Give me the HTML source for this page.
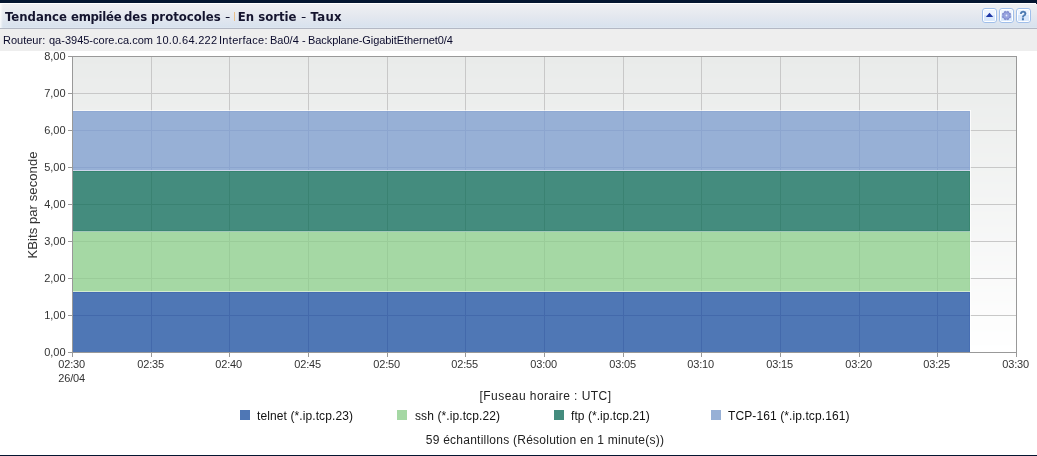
<!DOCTYPE html>
<html lang="fr"><head><meta charset="utf-8"><title>Tendance empilée des protocoles - En sortie - Taux</title>
<style>
html,body{margin:0;padding:0;background:#fff;overflow:hidden;}
body{width:1037px;height:456px;position:relative;overflow:hidden;font-family:"Liberation Sans",sans-serif;color:#222;}
.abs{position:absolute;white-space:nowrap;}
#topbar{left:0;top:0;width:1037px;height:3px;background:#041631;}
#hdr{left:0;top:3px;width:1037px;height:25px;background:linear-gradient(#ffffff 0,#ffffff 1px,#eff0f3 1px,#e4e8ef 13px,#d8e2ee 24px,#dde6f0 24px,#dde6f0 25px);}
#hdrline{left:0;top:28px;width:1037px;height:1px;background:#b3b8c4;}
#sub{left:0;top:29px;width:1037px;height:22px;background:#eeeeee;}
#rcol{left:1036px;top:0;width:1px;height:4px;background:#041631;}
#bot{left:0;top:455px;width:1037px;height:1px;background:#041631;}
.tt{top:9px;font:bold 13px/16px "DejaVu Sans Condensed","DejaVu Sans","Liberation Sans",sans-serif;color:#14142e;}
#sep{left:234px;top:12px;width:1px;height:9px;background:#e9c08c;}
.st{top:33px;font:11px/14px "Liberation Sans",sans-serif;color:#0b0b2c;}
.yl{font-size:11px;line-height:12px;width:40px;text-align:right;left:25.6px;color:#333;}
.xl{font-size:11px;line-height:12px;width:60px;text-align:center;color:#333;letter-spacing:-0.2px;}
.lg{font-size:12px;line-height:14px;top:409px;color:#111;letter-spacing:0.05px;}
.sw{width:10px;height:10px;top:410px;}
.cap{font-size:12px;line-height:14px;width:400px;left:344px;text-align:center;color:#222;}
</style></head><body>
<div class="abs" id="topbar"></div>
<div class="abs" id="hdr"></div>
<div class="abs" id="hdrline"></div>
<div class="abs" style="left:0;top:4px;width:3px;height:24px;background:linear-gradient(to right,rgba(255,255,255,0.85),rgba(255,255,255,0));"></div>
<div class="abs" id="sub"></div>
<div class="abs" id="rcol"></div>
<div class="abs" id="bot"></div>
<div class="abs" id="title" style="left:0;top:0"><span class="abs tt" style="left:5px">Tendance</span> <span class="abs tt" style="left:71px;letter-spacing:-0.3px">empilée</span> <span class="abs tt" style="left:124px">des</span> <span class="abs tt" style="left:151px">protocoles</span> <span class="abs tt" style="left:224.5px;font-weight:normal;transform:scaleX(1.25);transform-origin:0 50%">-</span> <span class="abs tt" style="left:237.8px">En sortie</span> <span class="abs tt" style="left:301px;font-weight:normal;transform:scaleX(1.25);transform-origin:0 50%">-</span> <span class="abs tt" style="left:310.6px;letter-spacing:0.3px">Taux</span></div>
<div class="abs" id="sep"></div>
<div class="abs" id="subtitle" style="left:0;top:0"><span class="abs st" style="left:3px">Routeur:</span> <span class="abs st" style="left:49px">qa-3945-core.ca.com</span> <span class="abs st" style="left:156px;letter-spacing:0.3px">10.0.64.222</span> <span class="abs st" style="left:219px;letter-spacing:0.3px">Interface:</span> <span class="abs st" style="left:270px">Ba0/4</span> <span class="abs st" style="left:302px">-</span> <span class="abs st" style="left:308px;letter-spacing:-0.07px">Backplane-GigabitEthernet0/4</span></div>
<svg class="abs" style="left:982px;top:8px" width="49" height="15" viewBox="0 0 49 15">
<g id="b1"><rect x="0.5" y="0.5" width="14" height="14" rx="2.5" ry="2.5" fill="#ffffff" stroke="#a0bfea"/><rect x="2" y="2" width="11" height="5" fill="#eef5ff"/><rect x="2" y="7" width="11" height="6" fill="#d9e8fc"/></g>
<g transform="translate(17,0)"><rect x="0.5" y="0.5" width="14" height="14" rx="2.5" ry="2.5" fill="#ffffff" stroke="#a0bfea"/><rect x="2" y="2" width="11" height="5" fill="#eef5ff"/><rect x="2" y="7" width="11" height="6" fill="#d9e8fc"/></g>
<g transform="translate(34,0)"><rect x="0.5" y="0.5" width="14" height="14" rx="2.5" ry="2.5" fill="#ffffff" stroke="#a0bfea"/><rect x="2" y="2" width="11" height="5" fill="#eef5ff"/><rect x="2" y="7" width="11" height="6" fill="#d9e8fc"/></g>
<path d="M3.8 9.1 L7.5 4.8 L11.2 9.1 Z" fill="#1f37a6"/>
<g transform="translate(24.5,7.5)"><path d="M0.42 -3.78 L0.98 -4.39 L2.41 -3.80 L2.38 -2.97 L2.97 -2.38 L3.80 -2.41 L4.39 -0.98 L3.78 -0.42 L3.78 0.42 L4.39 0.98 L3.80 2.41 L2.97 2.38 L2.38 2.97 L2.41 3.80 L0.98 4.39 L0.42 3.78 L-0.42 3.78 L-0.98 4.39 L-2.41 3.80 L-2.38 2.97 L-2.97 2.38 L-3.80 2.41 L-4.39 0.98 L-3.78 0.42 L-3.78 -0.42 L-4.39 -0.98 L-3.80 -2.41 L-2.97 -2.38 L-2.38 -2.97 L-2.41 -3.80 L-0.98 -4.39 L-0.42 -3.78 Z" fill="#7883c8" stroke="#7883c8" stroke-width="0.4" stroke-linejoin="round"/><circle r="3.3" fill="#97a3df"/><circle r="0.9" fill="#e4e9fb"/></g>
<text x="41.1" y="12.2" text-anchor="middle" font-family="Liberation Sans, sans-serif" font-weight="bold" font-size="12" fill="#4777b0" stroke="#4777b0" stroke-width="0.3">?</text>
</svg>

<svg class="abs" style="left:0;top:51px" width="1037" height="320" viewBox="0 51 1037 320" shape-rendering="crispEdges">
<rect x="72" y="56" width="945" height="1" fill="#e9ebea"/>
<rect x="72" y="57" width="945" height="1" fill="#e9ebea"/>
<rect x="72" y="58" width="945" height="1" fill="#e9ebea"/>
<rect x="72" y="59" width="945" height="1" fill="#e9ebea"/>
<rect x="72" y="60" width="945" height="1" fill="#e9ebea"/>
<rect x="72" y="61" width="945" height="1" fill="#e9ebea"/>
<rect x="72" y="62" width="945" height="1" fill="#e9ebea"/>
<rect x="72" y="63" width="945" height="1" fill="#eaebea"/>
<rect x="72" y="64" width="945" height="1" fill="#eaeceb"/>
<rect x="72" y="65" width="945" height="1" fill="#eaeceb"/>
<rect x="72" y="66" width="945" height="1" fill="#eaeceb"/>
<rect x="72" y="67" width="945" height="1" fill="#eaeceb"/>
<rect x="72" y="68" width="945" height="1" fill="#eaeceb"/>
<rect x="72" y="69" width="945" height="1" fill="#eaeceb"/>
<rect x="72" y="70" width="945" height="1" fill="#eaeceb"/>
<rect x="72" y="71" width="945" height="1" fill="#eaeceb"/>
<rect x="72" y="72" width="945" height="1" fill="#eaeceb"/>
<rect x="72" y="73" width="945" height="1" fill="#eaeceb"/>
<rect x="72" y="74" width="945" height="1" fill="#eaeceb"/>
<rect x="72" y="75" width="945" height="1" fill="#eaeceb"/>
<rect x="72" y="76" width="945" height="1" fill="#eaeceb"/>
<rect x="72" y="77" width="945" height="1" fill="#ebeceb"/>
<rect x="72" y="78" width="945" height="1" fill="#ebecec"/>
<rect x="72" y="79" width="945" height="1" fill="#ebedec"/>
<rect x="72" y="80" width="945" height="1" fill="#ebedec"/>
<rect x="72" y="81" width="945" height="1" fill="#ebedec"/>
<rect x="72" y="82" width="945" height="1" fill="#ebedec"/>
<rect x="72" y="83" width="945" height="1" fill="#ebedec"/>
<rect x="72" y="84" width="945" height="1" fill="#ebedec"/>
<rect x="72" y="85" width="945" height="1" fill="#ebedec"/>
<rect x="72" y="86" width="945" height="1" fill="#ebedec"/>
<rect x="72" y="87" width="945" height="1" fill="#ebedec"/>
<rect x="72" y="88" width="945" height="1" fill="#ebedec"/>
<rect x="72" y="89" width="945" height="1" fill="#ebedec"/>
<rect x="72" y="90" width="945" height="1" fill="#ecedec"/>
<rect x="72" y="91" width="945" height="1" fill="#ecedec"/>
<rect x="72" y="92" width="945" height="1" fill="#eceded"/>
<rect x="72" y="93" width="945" height="1" fill="#eceeed"/>
<rect x="72" y="94" width="945" height="1" fill="#eceeed"/>
<rect x="72" y="95" width="945" height="1" fill="#eceeed"/>
<rect x="72" y="96" width="945" height="1" fill="#eceeed"/>
<rect x="72" y="97" width="945" height="1" fill="#eceeed"/>
<rect x="72" y="98" width="945" height="1" fill="#eceeed"/>
<rect x="72" y="99" width="945" height="1" fill="#eceeed"/>
<rect x="72" y="100" width="945" height="1" fill="#eceeed"/>
<rect x="72" y="101" width="945" height="1" fill="#eceeed"/>
<rect x="72" y="102" width="945" height="1" fill="#eceeed"/>
<rect x="72" y="103" width="945" height="1" fill="#eceeed"/>
<rect x="72" y="104" width="945" height="1" fill="#edeeed"/>
<rect x="72" y="105" width="945" height="1" fill="#edeeed"/>
<rect x="72" y="106" width="945" height="1" fill="#edeeee"/>
<rect x="72" y="107" width="945" height="1" fill="#edeeee"/>
<rect x="72" y="108" width="945" height="1" fill="#edefee"/>
<rect x="72" y="109" width="945" height="1" fill="#edefee"/>
<rect x="72" y="110" width="945" height="1" fill="#edefee"/>
<rect x="72" y="111" width="945" height="1" fill="#edefee"/>
<rect x="72" y="112" width="945" height="1" fill="#edefee"/>
<rect x="72" y="113" width="945" height="1" fill="#edefee"/>
<rect x="72" y="114" width="945" height="1" fill="#edefee"/>
<rect x="72" y="115" width="945" height="1" fill="#edefee"/>
<rect x="72" y="116" width="945" height="1" fill="#edefee"/>
<rect x="72" y="117" width="945" height="1" fill="#eeefee"/>
<rect x="72" y="118" width="945" height="1" fill="#eeefee"/>
<rect x="72" y="119" width="945" height="1" fill="#eeefee"/>
<rect x="72" y="120" width="945" height="1" fill="#eeefef"/>
<rect x="72" y="121" width="945" height="1" fill="#eeefef"/>
<rect x="72" y="122" width="945" height="1" fill="#eeefef"/>
<rect x="72" y="123" width="945" height="1" fill="#eef0ef"/>
<rect x="72" y="124" width="945" height="1" fill="#eef0ef"/>
<rect x="72" y="125" width="945" height="1" fill="#eef0ef"/>
<rect x="72" y="126" width="945" height="1" fill="#eef0ef"/>
<rect x="72" y="127" width="945" height="1" fill="#eef0ef"/>
<rect x="72" y="128" width="945" height="1" fill="#eef0ef"/>
<rect x="72" y="129" width="945" height="1" fill="#eef0ef"/>
<rect x="72" y="130" width="945" height="1" fill="#eef0ef"/>
<rect x="72" y="131" width="945" height="1" fill="#eff0ef"/>
<rect x="72" y="132" width="945" height="1" fill="#eff0ef"/>
<rect x="72" y="133" width="945" height="1" fill="#eff0ef"/>
<rect x="72" y="134" width="945" height="1" fill="#eff0f0"/>
<rect x="72" y="135" width="945" height="1" fill="#eff0f0"/>
<rect x="72" y="136" width="945" height="1" fill="#eff0f0"/>
<rect x="72" y="137" width="945" height="1" fill="#eff0f0"/>
<rect x="72" y="138" width="945" height="1" fill="#eff1f0"/>
<rect x="72" y="139" width="945" height="1" fill="#eff1f0"/>
<rect x="72" y="140" width="945" height="1" fill="#eff1f0"/>
<rect x="72" y="141" width="945" height="1" fill="#eff1f0"/>
<rect x="72" y="142" width="945" height="1" fill="#eff1f0"/>
<rect x="72" y="143" width="945" height="1" fill="#eff1f0"/>
<rect x="72" y="144" width="945" height="1" fill="#f0f1f0"/>
<rect x="72" y="145" width="945" height="1" fill="#f0f1f0"/>
<rect x="72" y="146" width="945" height="1" fill="#f0f1f0"/>
<rect x="72" y="147" width="945" height="1" fill="#f0f1f0"/>
<rect x="72" y="148" width="945" height="1" fill="#f0f1f1"/>
<rect x="72" y="149" width="945" height="1" fill="#f0f1f1"/>
<rect x="72" y="150" width="945" height="1" fill="#f0f1f1"/>
<rect x="72" y="151" width="945" height="1" fill="#f0f1f1"/>
<rect x="72" y="152" width="945" height="1" fill="#f0f1f1"/>
<rect x="72" y="153" width="945" height="1" fill="#f0f2f1"/>
<rect x="72" y="154" width="945" height="1" fill="#f0f2f1"/>
<rect x="72" y="155" width="945" height="1" fill="#f0f2f1"/>
<rect x="72" y="156" width="945" height="1" fill="#f0f2f1"/>
<rect x="72" y="157" width="945" height="1" fill="#f1f2f1"/>
<rect x="72" y="158" width="945" height="1" fill="#f1f2f1"/>
<rect x="72" y="159" width="945" height="1" fill="#f1f2f1"/>
<rect x="72" y="160" width="945" height="1" fill="#f1f2f1"/>
<rect x="72" y="161" width="945" height="1" fill="#f1f2f1"/>
<rect x="72" y="162" width="945" height="1" fill="#f1f2f2"/>
<rect x="72" y="163" width="945" height="1" fill="#f1f2f2"/>
<rect x="72" y="164" width="945" height="1" fill="#f1f2f2"/>
<rect x="72" y="165" width="945" height="1" fill="#f1f2f2"/>
<rect x="72" y="166" width="945" height="1" fill="#f1f2f2"/>
<rect x="72" y="167" width="945" height="1" fill="#f1f2f2"/>
<rect x="72" y="168" width="945" height="1" fill="#f1f3f2"/>
<rect x="72" y="169" width="945" height="1" fill="#f1f3f2"/>
<rect x="72" y="170" width="945" height="1" fill="#f1f3f2"/>
<rect x="72" y="171" width="945" height="1" fill="#f2f3f2"/>
<rect x="72" y="172" width="945" height="1" fill="#f2f3f2"/>
<rect x="72" y="173" width="945" height="1" fill="#f2f3f2"/>
<rect x="72" y="174" width="945" height="1" fill="#f2f3f2"/>
<rect x="72" y="175" width="945" height="1" fill="#f2f3f2"/>
<rect x="72" y="176" width="945" height="1" fill="#f2f3f3"/>
<rect x="72" y="177" width="945" height="1" fill="#f2f3f3"/>
<rect x="72" y="178" width="945" height="1" fill="#f2f3f3"/>
<rect x="72" y="179" width="945" height="1" fill="#f2f3f3"/>
<rect x="72" y="180" width="945" height="1" fill="#f2f3f3"/>
<rect x="72" y="181" width="945" height="1" fill="#f2f3f3"/>
<rect x="72" y="182" width="945" height="1" fill="#f2f4f3"/>
<rect x="72" y="183" width="945" height="1" fill="#f2f4f3"/>
<rect x="72" y="184" width="945" height="1" fill="#f3f4f3"/>
<rect x="72" y="185" width="945" height="1" fill="#f3f4f3"/>
<rect x="72" y="186" width="945" height="1" fill="#f3f4f3"/>
<rect x="72" y="187" width="945" height="1" fill="#f3f4f3"/>
<rect x="72" y="188" width="945" height="1" fill="#f3f4f3"/>
<rect x="72" y="189" width="945" height="1" fill="#f3f4f3"/>
<rect x="72" y="190" width="945" height="1" fill="#f3f4f4"/>
<rect x="72" y="191" width="945" height="1" fill="#f3f4f4"/>
<rect x="72" y="192" width="945" height="1" fill="#f3f4f4"/>
<rect x="72" y="193" width="945" height="1" fill="#f3f4f4"/>
<rect x="72" y="194" width="945" height="1" fill="#f3f4f4"/>
<rect x="72" y="195" width="945" height="1" fill="#f3f4f4"/>
<rect x="72" y="196" width="945" height="1" fill="#f3f4f4"/>
<rect x="72" y="197" width="945" height="1" fill="#f3f5f4"/>
<rect x="72" y="198" width="945" height="1" fill="#f4f5f4"/>
<rect x="72" y="199" width="945" height="1" fill="#f4f5f4"/>
<rect x="72" y="200" width="945" height="1" fill="#f4f5f4"/>
<rect x="72" y="201" width="945" height="1" fill="#f4f5f4"/>
<rect x="72" y="202" width="945" height="1" fill="#f4f5f4"/>
<rect x="72" y="203" width="945" height="1" fill="#f4f5f4"/>
<rect x="72" y="204" width="945" height="1" fill="#f4f5f4"/>
<rect x="72" y="205" width="945" height="1" fill="#f4f5f5"/>
<rect x="72" y="206" width="945" height="1" fill="#f4f5f5"/>
<rect x="72" y="207" width="945" height="1" fill="#f4f5f5"/>
<rect x="72" y="208" width="945" height="1" fill="#f4f5f5"/>
<rect x="72" y="209" width="945" height="1" fill="#f4f5f5"/>
<rect x="72" y="210" width="945" height="1" fill="#f4f5f5"/>
<rect x="72" y="211" width="945" height="1" fill="#f5f5f5"/>
<rect x="72" y="212" width="945" height="1" fill="#f5f6f5"/>
<rect x="72" y="213" width="945" height="1" fill="#f5f6f5"/>
<rect x="72" y="214" width="945" height="1" fill="#f5f6f5"/>
<rect x="72" y="215" width="945" height="1" fill="#f5f6f5"/>
<rect x="72" y="216" width="945" height="1" fill="#f5f6f5"/>
<rect x="72" y="217" width="945" height="1" fill="#f5f6f5"/>
<rect x="72" y="218" width="945" height="1" fill="#f5f6f5"/>
<rect x="72" y="219" width="945" height="1" fill="#f5f6f6"/>
<rect x="72" y="220" width="945" height="1" fill="#f5f6f6"/>
<rect x="72" y="221" width="945" height="1" fill="#f5f6f6"/>
<rect x="72" y="222" width="945" height="1" fill="#f5f6f6"/>
<rect x="72" y="223" width="945" height="1" fill="#f5f6f6"/>
<rect x="72" y="224" width="945" height="1" fill="#f5f6f6"/>
<rect x="72" y="225" width="945" height="1" fill="#f6f6f6"/>
<rect x="72" y="226" width="945" height="1" fill="#f6f6f6"/>
<rect x="72" y="227" width="945" height="1" fill="#f6f7f6"/>
<rect x="72" y="228" width="945" height="1" fill="#f6f7f6"/>
<rect x="72" y="229" width="945" height="1" fill="#f6f7f6"/>
<rect x="72" y="230" width="945" height="1" fill="#f6f7f6"/>
<rect x="72" y="231" width="945" height="1" fill="#f6f7f6"/>
<rect x="72" y="232" width="945" height="1" fill="#f6f7f6"/>
<rect x="72" y="233" width="945" height="1" fill="#f6f7f7"/>
<rect x="72" y="234" width="945" height="1" fill="#f6f7f7"/>
<rect x="72" y="235" width="945" height="1" fill="#f6f7f7"/>
<rect x="72" y="236" width="945" height="1" fill="#f6f7f7"/>
<rect x="72" y="237" width="945" height="1" fill="#f6f7f7"/>
<rect x="72" y="238" width="945" height="1" fill="#f7f7f7"/>
<rect x="72" y="239" width="945" height="1" fill="#f7f7f7"/>
<rect x="72" y="240" width="945" height="1" fill="#f7f7f7"/>
<rect x="72" y="241" width="945" height="1" fill="#f7f8f7"/>
<rect x="72" y="242" width="945" height="1" fill="#f7f8f7"/>
<rect x="72" y="243" width="945" height="1" fill="#f7f8f7"/>
<rect x="72" y="244" width="945" height="1" fill="#f7f8f7"/>
<rect x="72" y="245" width="945" height="1" fill="#f7f8f7"/>
<rect x="72" y="246" width="945" height="1" fill="#f7f8f7"/>
<rect x="72" y="247" width="945" height="1" fill="#f7f8f8"/>
<rect x="72" y="248" width="945" height="1" fill="#f7f8f8"/>
<rect x="72" y="249" width="945" height="1" fill="#f7f8f8"/>
<rect x="72" y="250" width="945" height="1" fill="#f7f8f8"/>
<rect x="72" y="251" width="945" height="1" fill="#f7f8f8"/>
<rect x="72" y="252" width="945" height="1" fill="#f8f8f8"/>
<rect x="72" y="253" width="945" height="1" fill="#f8f8f8"/>
<rect x="72" y="254" width="945" height="1" fill="#f8f8f8"/>
<rect x="72" y="255" width="945" height="1" fill="#f8f8f8"/>
<rect x="72" y="256" width="945" height="1" fill="#f8f9f8"/>
<rect x="72" y="257" width="945" height="1" fill="#f8f9f8"/>
<rect x="72" y="258" width="945" height="1" fill="#f8f9f8"/>
<rect x="72" y="259" width="945" height="1" fill="#f8f9f8"/>
<rect x="72" y="260" width="945" height="1" fill="#f8f9f8"/>
<rect x="72" y="261" width="945" height="1" fill="#f8f9f9"/>
<rect x="72" y="262" width="945" height="1" fill="#f8f9f9"/>
<rect x="72" y="263" width="945" height="1" fill="#f8f9f9"/>
<rect x="72" y="264" width="945" height="1" fill="#f8f9f9"/>
<rect x="72" y="265" width="945" height="1" fill="#f9f9f9"/>
<rect x="72" y="266" width="945" height="1" fill="#f9f9f9"/>
<rect x="72" y="267" width="945" height="1" fill="#f9f9f9"/>
<rect x="72" y="268" width="945" height="1" fill="#f9f9f9"/>
<rect x="72" y="269" width="945" height="1" fill="#f9f9f9"/>
<rect x="72" y="270" width="945" height="1" fill="#f9f9f9"/>
<rect x="72" y="271" width="945" height="1" fill="#f9faf9"/>
<rect x="72" y="272" width="945" height="1" fill="#f9faf9"/>
<rect x="72" y="273" width="945" height="1" fill="#f9faf9"/>
<rect x="72" y="274" width="945" height="1" fill="#f9faf9"/>
<rect x="72" y="275" width="945" height="1" fill="#f9fafa"/>
<rect x="72" y="276" width="945" height="1" fill="#f9fafa"/>
<rect x="72" y="277" width="945" height="1" fill="#f9fafa"/>
<rect x="72" y="278" width="945" height="1" fill="#fafafa"/>
<rect x="72" y="279" width="945" height="1" fill="#fafafa"/>
<rect x="72" y="280" width="945" height="1" fill="#fafafa"/>
<rect x="72" y="281" width="945" height="1" fill="#fafafa"/>
<rect x="72" y="282" width="945" height="1" fill="#fafafa"/>
<rect x="72" y="283" width="945" height="1" fill="#fafafa"/>
<rect x="72" y="284" width="945" height="1" fill="#fafafa"/>
<rect x="72" y="285" width="945" height="1" fill="#fafafa"/>
<rect x="72" y="286" width="945" height="1" fill="#fafbfa"/>
<rect x="72" y="287" width="945" height="1" fill="#fafbfa"/>
<rect x="72" y="288" width="945" height="1" fill="#fafbfa"/>
<rect x="72" y="289" width="945" height="1" fill="#fafbfb"/>
<rect x="72" y="290" width="945" height="1" fill="#fafbfb"/>
<rect x="72" y="291" width="945" height="1" fill="#fafbfb"/>
<rect x="72" y="292" width="945" height="1" fill="#fbfbfb"/>
<rect x="72" y="293" width="945" height="1" fill="#fbfbfb"/>
<rect x="72" y="294" width="945" height="1" fill="#fbfbfb"/>
<rect x="72" y="295" width="945" height="1" fill="#fbfbfb"/>
<rect x="72" y="296" width="945" height="1" fill="#fbfbfb"/>
<rect x="72" y="297" width="945" height="1" fill="#fbfbfb"/>
<rect x="72" y="298" width="945" height="1" fill="#fbfbfb"/>
<rect x="72" y="299" width="945" height="1" fill="#fbfbfb"/>
<rect x="72" y="300" width="945" height="1" fill="#fbfbfb"/>
<rect x="72" y="301" width="945" height="1" fill="#fbfcfb"/>
<rect x="72" y="302" width="945" height="1" fill="#fbfcfb"/>
<rect x="72" y="303" width="945" height="1" fill="#fbfcfc"/>
<rect x="72" y="304" width="945" height="1" fill="#fbfcfc"/>
<rect x="72" y="305" width="945" height="1" fill="#fcfcfc"/>
<rect x="72" y="306" width="945" height="1" fill="#fcfcfc"/>
<rect x="72" y="307" width="945" height="1" fill="#fcfcfc"/>
<rect x="72" y="308" width="945" height="1" fill="#fcfcfc"/>
<rect x="72" y="309" width="945" height="1" fill="#fcfcfc"/>
<rect x="72" y="310" width="945" height="1" fill="#fcfcfc"/>
<rect x="72" y="311" width="945" height="1" fill="#fcfcfc"/>
<rect x="72" y="312" width="945" height="1" fill="#fcfcfc"/>
<rect x="72" y="313" width="945" height="1" fill="#fcfcfc"/>
<rect x="72" y="314" width="945" height="1" fill="#fcfcfc"/>
<rect x="72" y="315" width="945" height="1" fill="#fcfcfc"/>
<rect x="72" y="316" width="945" height="1" fill="#fcfdfc"/>
<rect x="72" y="317" width="945" height="1" fill="#fcfdfd"/>
<rect x="72" y="318" width="945" height="1" fill="#fcfdfd"/>
<rect x="72" y="319" width="945" height="1" fill="#fdfdfd"/>
<rect x="72" y="320" width="945" height="1" fill="#fdfdfd"/>
<rect x="72" y="321" width="945" height="1" fill="#fdfdfd"/>
<rect x="72" y="322" width="945" height="1" fill="#fdfdfd"/>
<rect x="72" y="323" width="945" height="1" fill="#fdfdfd"/>
<rect x="72" y="324" width="945" height="1" fill="#fdfdfd"/>
<rect x="72" y="325" width="945" height="1" fill="#fdfdfd"/>
<rect x="72" y="326" width="945" height="1" fill="#fdfdfd"/>
<rect x="72" y="327" width="945" height="1" fill="#fdfdfd"/>
<rect x="72" y="328" width="945" height="1" fill="#fdfdfd"/>
<rect x="72" y="329" width="945" height="1" fill="#fdfdfd"/>
<rect x="72" y="330" width="945" height="1" fill="#fdfefd"/>
<rect x="72" y="331" width="945" height="1" fill="#fdfefe"/>
<rect x="72" y="332" width="945" height="1" fill="#fefefe"/>
<rect x="72" y="333" width="945" height="1" fill="#fefefe"/>
<rect x="72" y="334" width="945" height="1" fill="#fefefe"/>
<rect x="72" y="335" width="945" height="1" fill="#fefefe"/>
<rect x="72" y="336" width="945" height="1" fill="#fefefe"/>
<rect x="72" y="337" width="945" height="1" fill="#fefefe"/>
<rect x="72" y="338" width="945" height="1" fill="#fefefe"/>
<rect x="72" y="339" width="945" height="1" fill="#fefefe"/>
<rect x="72" y="340" width="945" height="1" fill="#fefefe"/>
<rect x="72" y="341" width="945" height="1" fill="#fefefe"/>
<rect x="72" y="342" width="945" height="1" fill="#fefefe"/>
<rect x="72" y="343" width="945" height="1" fill="#fefefe"/>
<rect x="72" y="344" width="945" height="1" fill="#fefefe"/>
<rect x="72" y="345" width="945" height="1" fill="#feffff"/>
<rect x="72" y="346" width="945" height="1" fill="#ffffff"/>
<rect x="72" y="347" width="945" height="1" fill="#ffffff"/>
<rect x="72" y="348" width="945" height="1" fill="#ffffff"/>
<rect x="72" y="349" width="945" height="1" fill="#ffffff"/>
<rect x="72" y="350" width="945" height="1" fill="#ffffff"/>
<rect x="72" y="351" width="945" height="1" fill="#ffffff"/>
<rect x="72" y="352" width="945" height="1" fill="#ffffff"/>
<rect x="72" y="315" width="944" height="1" fill="#c8c8c8"/>
<rect x="72" y="278" width="944" height="1" fill="#c8c8c8"/>
<rect x="72" y="241" width="944" height="1" fill="#c8c8c8"/>
<rect x="72" y="204" width="944" height="1" fill="#c8c8c8"/>
<rect x="72" y="167" width="944" height="1" fill="#c8c8c8"/>
<rect x="72" y="130" width="944" height="1" fill="#c8c8c8"/>
<rect x="72" y="93" width="944" height="1" fill="#c8c8c8"/>
<rect x="151" y="56" width="1" height="296" fill="#c8c8c8"/>
<rect x="229" y="56" width="1" height="296" fill="#c8c8c8"/>
<rect x="308" y="56" width="1" height="296" fill="#c8c8c8"/>
<rect x="387" y="56" width="1" height="296" fill="#c8c8c8"/>
<rect x="465" y="56" width="1" height="296" fill="#c8c8c8"/>
<rect x="544" y="56" width="1" height="296" fill="#c8c8c8"/>
<rect x="623" y="56" width="1" height="296" fill="#c8c8c8"/>
<rect x="701" y="56" width="1" height="296" fill="#c8c8c8"/>
<rect x="780" y="56" width="1" height="296" fill="#c8c8c8"/>
<rect x="859" y="56" width="1" height="296" fill="#c8c8c8"/>
<rect x="937" y="56" width="1" height="296" fill="#c8c8c8"/>
<rect x="73" y="110" width="898" height="1" fill="#fff" fill-opacity="0.6"/>
<rect x="970" y="110" width="1" height="242" fill="#fff" fill-opacity="0.75"/>
<rect x="73" y="111" width="897" height="59" fill="#97b0d6"/>
<rect x="73" y="111" width="897" height="1" fill="#8fa9d4"/>
<rect x="73" y="170" width="897" height="1" fill="#cfd5ec"/>
<rect x="73" y="171" width="897" height="60" fill="#448c7e"/>
<rect x="73" y="171" width="897" height="1" fill="#36846f"/>
<rect x="73" y="230" width="897" height="1" fill="#3b8774"/>
<rect x="73" y="231" width="897" height="1" fill="#a3c8bb"/>
<rect x="73" y="232" width="897" height="59" fill="#a5d8a4"/>
<rect x="73" y="291" width="897" height="1" fill="#d3ecd0"/>
<rect x="73" y="292" width="897" height="60" fill="#4f77b5"/>
<rect x="73" y="292" width="897" height="1" fill="#456cb1"/>
<rect x="969" y="111" width="1" height="59" fill="#90aad4"/>
<rect x="969" y="171" width="1" height="60" fill="#398671"/>
<rect x="969" y="232" width="1" height="59" fill="#a0d59f"/>
<rect x="969" y="292" width="1" height="60" fill="#476eb2"/>
<rect x="151" y="111" width="1" height="59" fill="#8ca5cf"/>
<rect x="229" y="111" width="1" height="59" fill="#8ca5cf"/>
<rect x="308" y="111" width="1" height="59" fill="#8ca5cf"/>
<rect x="387" y="111" width="1" height="59" fill="#8ca5cf"/>
<rect x="465" y="111" width="1" height="59" fill="#8ca5cf"/>
<rect x="544" y="111" width="1" height="59" fill="#8ca5cf"/>
<rect x="623" y="111" width="1" height="59" fill="#8ca5cf"/>
<rect x="701" y="111" width="1" height="59" fill="#8ca5cf"/>
<rect x="780" y="111" width="1" height="59" fill="#8ca5cf"/>
<rect x="859" y="111" width="1" height="59" fill="#8ca5cf"/>
<rect x="937" y="111" width="1" height="59" fill="#8ca5cf"/>
<rect x="73" y="167" width="897" height="1" fill="#8ca5cf"/>
<rect x="73" y="130" width="897" height="1" fill="#8ca5cf"/>
<rect x="151" y="171" width="1" height="60" fill="#3a8272"/>
<rect x="229" y="171" width="1" height="60" fill="#3a8272"/>
<rect x="308" y="171" width="1" height="60" fill="#3a8272"/>
<rect x="387" y="171" width="1" height="60" fill="#3a8272"/>
<rect x="465" y="171" width="1" height="60" fill="#3a8272"/>
<rect x="544" y="171" width="1" height="60" fill="#3a8272"/>
<rect x="623" y="171" width="1" height="60" fill="#3a8272"/>
<rect x="701" y="171" width="1" height="60" fill="#3a8272"/>
<rect x="780" y="171" width="1" height="60" fill="#3a8272"/>
<rect x="859" y="171" width="1" height="60" fill="#3a8272"/>
<rect x="937" y="171" width="1" height="60" fill="#3a8272"/>
<rect x="73" y="204" width="897" height="1" fill="#3a8272"/>
<rect x="151" y="232" width="1" height="59" fill="#9acc99"/>
<rect x="229" y="232" width="1" height="59" fill="#9acc99"/>
<rect x="308" y="232" width="1" height="59" fill="#9acc99"/>
<rect x="387" y="232" width="1" height="59" fill="#9acc99"/>
<rect x="465" y="232" width="1" height="59" fill="#9acc99"/>
<rect x="544" y="232" width="1" height="59" fill="#9acc99"/>
<rect x="623" y="232" width="1" height="59" fill="#9acc99"/>
<rect x="701" y="232" width="1" height="59" fill="#9acc99"/>
<rect x="780" y="232" width="1" height="59" fill="#9acc99"/>
<rect x="859" y="232" width="1" height="59" fill="#9acc99"/>
<rect x="937" y="232" width="1" height="59" fill="#9acc99"/>
<rect x="73" y="278" width="897" height="1" fill="#9acc99"/>
<rect x="73" y="241" width="897" height="1" fill="#9acc99"/>
<rect x="151" y="292" width="1" height="60" fill="#4369ab"/>
<rect x="229" y="292" width="1" height="60" fill="#4369ab"/>
<rect x="308" y="292" width="1" height="60" fill="#4369ab"/>
<rect x="387" y="292" width="1" height="60" fill="#4369ab"/>
<rect x="465" y="292" width="1" height="60" fill="#4369ab"/>
<rect x="544" y="292" width="1" height="60" fill="#4369ab"/>
<rect x="623" y="292" width="1" height="60" fill="#4369ab"/>
<rect x="701" y="292" width="1" height="60" fill="#4369ab"/>
<rect x="780" y="292" width="1" height="60" fill="#4369ab"/>
<rect x="859" y="292" width="1" height="60" fill="#4369ab"/>
<rect x="937" y="292" width="1" height="60" fill="#4369ab"/>
<rect x="73" y="315" width="897" height="1" fill="#4369ab"/>
<rect x="72" y="56" width="945" height="1" fill="#999"/>
<rect x="72" y="352" width="945" height="1" fill="#999"/>
<rect x="72" y="56" width="1" height="297" fill="#999"/>
<rect x="1016" y="56" width="1" height="297" fill="#999"/>
<rect x="68" y="352" width="4" height="1" fill="#999"/>
<rect x="68" y="315" width="4" height="1" fill="#999"/>
<rect x="68" y="278" width="4" height="1" fill="#999"/>
<rect x="68" y="241" width="4" height="1" fill="#999"/>
<rect x="68" y="204" width="4" height="1" fill="#999"/>
<rect x="68" y="167" width="4" height="1" fill="#999"/>
<rect x="68" y="130" width="4" height="1" fill="#999"/>
<rect x="68" y="93" width="4" height="1" fill="#999"/>
<rect x="68" y="56" width="4" height="1" fill="#999"/>
<rect x="72" y="352" width="1" height="5" fill="#999"/>
<rect x="151" y="352" width="1" height="5" fill="#999"/>
<rect x="229" y="352" width="1" height="5" fill="#999"/>
<rect x="308" y="352" width="1" height="5" fill="#999"/>
<rect x="387" y="352" width="1" height="5" fill="#999"/>
<rect x="465" y="352" width="1" height="5" fill="#999"/>
<rect x="544" y="352" width="1" height="5" fill="#999"/>
<rect x="623" y="352" width="1" height="5" fill="#999"/>
<rect x="701" y="352" width="1" height="5" fill="#999"/>
<rect x="780" y="352" width="1" height="5" fill="#999"/>
<rect x="859" y="352" width="1" height="5" fill="#999"/>
<rect x="937" y="352" width="1" height="5" fill="#999"/>
<rect x="1016" y="352" width="1" height="5" fill="#999"/>
</svg>
<div class="abs yl" style="top:346px">0,00</div>
<div class="abs yl" style="top:309px">1,00</div>
<div class="abs yl" style="top:272px">2,00</div>
<div class="abs yl" style="top:235px">3,00</div>
<div class="abs yl" style="top:198px">4,00</div>
<div class="abs yl" style="top:161px">5,00</div>
<div class="abs yl" style="top:124px">6,00</div>
<div class="abs yl" style="top:87px">7,00</div>
<div class="abs yl" style="top:50px">8,00</div>
<div class="abs xl" style="left:41.60px;top:358px">02:30</div>
<div class="abs xl" style="left:120.60px;top:358px">02:35</div>
<div class="abs xl" style="left:198.60px;top:358px">02:40</div>
<div class="abs xl" style="left:277.60px;top:358px">02:45</div>
<div class="abs xl" style="left:356.60px;top:358px">02:50</div>
<div class="abs xl" style="left:434.60px;top:358px">02:55</div>
<div class="abs xl" style="left:513.60px;top:358px">03:00</div>
<div class="abs xl" style="left:592.60px;top:358px">03:05</div>
<div class="abs xl" style="left:670.60px;top:358px">03:10</div>
<div class="abs xl" style="left:749.60px;top:358px">03:15</div>
<div class="abs xl" style="left:828.60px;top:358px">03:20</div>
<div class="abs xl" style="left:906.60px;top:358px">03:25</div>
<div class="abs xl" style="left:985.60px;top:358px">03:30</div>
<div class="abs xl" style="left:41.60px;top:372px">26/04</div>
<div class="abs" id="ylab" style="left:33px;top:205px;width:0;height:0;"><div style="position:absolute;left:-100px;top:-8px;width:200px;height:16px;line-height:16px;text-align:center;font-size:13px;letter-spacing:0.1px;transform:rotate(-90deg);color:#333;">KBits par seconde</div></div>
<div class="abs cap" style="top:389px;left:345.5px;font-size:12px;letter-spacing:0.45px;">[Fuseau horaire : UTC]</div>
<div class="abs sw" style="left:240px;background:#4f77b5"></div><div class="abs lg" style="left:257px;letter-spacing:0.1px">telnet (*.ip.tcp.23)</div>
<div class="abs sw" style="left:397px;background:#a5d8a4"></div><div class="abs lg" style="left:415px;letter-spacing:0.1px">ssh (*.ip.tcp.22)</div>
<div class="abs sw" style="left:554px;background:#448c7e"></div><div class="abs lg" style="left:571px;letter-spacing:0.05px">ftp (*.ip.tcp.21)</div>
<div class="abs sw" style="left:711px;background:#97b0d6"></div><div class="abs lg" style="left:728px;letter-spacing:0.1px">TCP-161 (*.ip.tcp.161)</div>
<div class="abs cap" style="top:433px;left:345px;font-size:12px;letter-spacing:0.24px;">59 échantillons (Résolution en 1 minute(s))</div>
</body></html>
